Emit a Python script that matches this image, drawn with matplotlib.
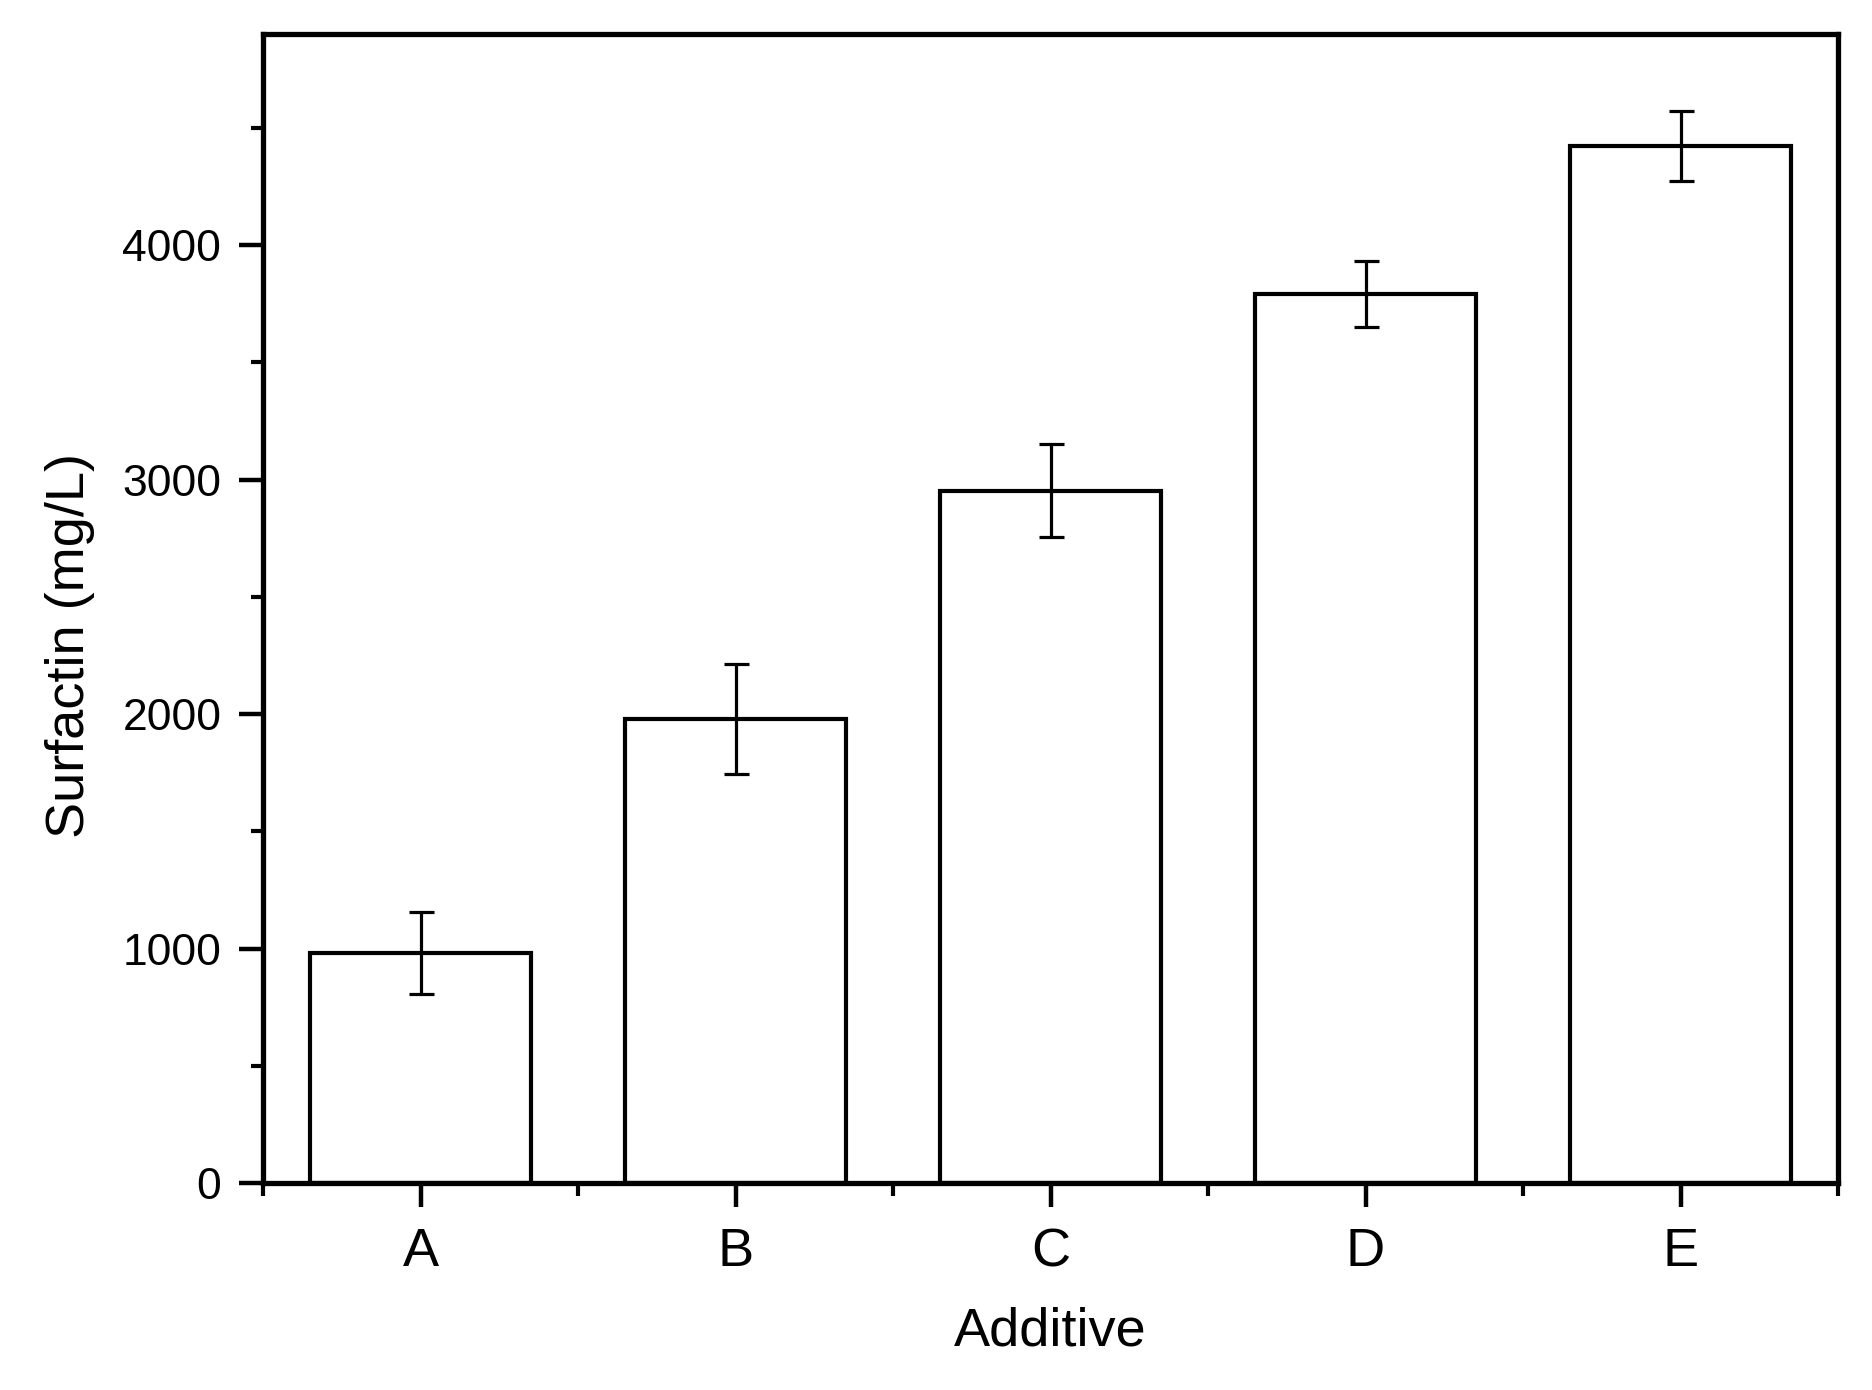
import matplotlib
matplotlib.use('Agg')
import matplotlib.pyplot as plt
from matplotlib.ticker import MultipleLocator, FixedLocator

additives = ['A', 'B', 'C', 'D', 'E']
surfactin = [982, 1980, 2953, 3791, 4422]
surfactin_err = [175, 235, 200, 140, 150]

plt.rcParams['font.family'] = ['Liberation Sans', 'DejaVu Sans']

fig = plt.figure(figsize=(18.72, 13.90), dpi=100)
ax = fig.add_axes([0.1405, 0.1489, 0.8414, 0.8266])

x = list(range(len(additives)))
ax.bar(x, surfactin, width=0.70, color='white', edgecolor='black', linewidth=3.0,
       yerr=surfactin_err, capsize=9,
       error_kw={'elinewidth': 2.3, 'capthick': 2.3, 'ecolor': 'black'})

ax.set_xlim(-0.5, 4.5)
ax.set_ylim(0, 4900)
ax.set_xticks(x)
ax.set_xticklabels(additives)
ax.xaxis.set_minor_locator(FixedLocator([i - 0.5 for i in range(len(additives) + 1)]))
ax.yaxis.set_major_locator(MultipleLocator(1000))
ax.yaxis.set_minor_locator(MultipleLocator(500))

for s in ax.spines.values():
    s.set_linewidth(3.8)

ax.tick_params(axis='x', which='major', direction='out', length=17, width=3.2,
               labelsize=39, pad=15, top=False)
ax.tick_params(axis='x', which='minor', direction='out', length=9, width=3.0, top=False)
ax.tick_params(axis='y', which='major', direction='out', length=17, width=3.2,
               labelsize=32, pad=13, right=False)
ax.tick_params(axis='y', which='minor', direction='out', length=9, width=3.0, right=False)

ax.set_xlabel('Additive', fontsize=39, labelpad=21)
ax.set_ylabel('Surfactin (mg/L)', fontsize=39, labelpad=20, y=0.468)

plt.savefig('out.png', dpi=100)
